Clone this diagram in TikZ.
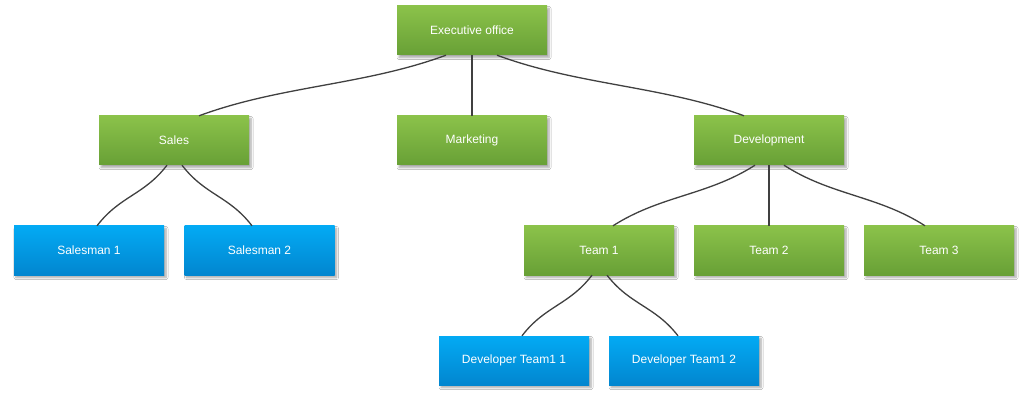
\documentclass[tikz,border=0pt]{standalone}
\usepackage{fontspec}
\setmainfont{Liberation Sans}
\usetikzlibrary{calc,shadows.blur}
\definecolor{gtop}{RGB}{139,194,74}
\definecolor{gbot}{RGB}{104,160,54}
\definecolor{btop}{RGB}{3,170,244}
\definecolor{bbot}{RGB}{2,134,207}
\definecolor{linec}{RGB}{64,64,64}
\tikzset{
  orgbox/.style={rectangle, minimum width=150pt, minimum height=49pt, inner sep=0pt,
    text=white, font=\fontsize{12pt}{14pt}\selectfont,
    blur shadow={shadow xshift=2pt, shadow yshift=-2.5pt, shadow blur steps=6, shadow opacity=35, shadow blur radius=2pt}},
  greenbox/.style={orgbox, top color=gtop, bottom color=gbot},
  bluebox/.style={orgbox, top color=btop, bottom color=bbot},
  orgline/.style={draw=linec, line width=1.3pt}
}
\newcommand\orgedge[4]{%
  \path ($(#1.south)+(#2,0)$) coordinate (eS) ($(#3.north)+(#4,0)$) coordinate (eE);
  \path ($(eS)!.5!(eE)$) coordinate (eM) ($(eS)!1/3!(eE)$) coordinate (eA) ($(eS)!2/3!(eE)$) coordinate (eB);
  \draw[orgline] (eS) .. controls (eA |- eM) and (eB |- eM) .. (eE);
}
\begin{document}
\begin{tikzpicture}[x=1pt,y=-1pt]
\useasboundingbox[fill=white] (0,0) rectangle (1029,401);
\node[greenbox] (exec) at (472,30.5) {Executive office};
\node[greenbox] (sales) at (174,140.5) {Sales};
\node[greenbox] (mkt) at (472,140.5) {Marketing};
\node[greenbox] (dev) at (769,140.5) {Development};
\node[bluebox] (sm1) at (89,250.5) {Salesman 1};
\node[bluebox] (sm2) at (259.5,250.5) {Salesman 2};
\node[greenbox] (t1) at (599,250.5) {Team 1};
\node[greenbox] (t2) at (769,250.5) {Team 2};
\node[greenbox] (t3) at (939,250.5) {Team 3};
\node[bluebox] (d1) at (514,360.5) {Developer Team1 1};
\node[bluebox] (d2) at (684,360.5) {Developer Team1 2};
\orgedge{exec}{-26pt}{sales}{25pt}
\draw[orgline] (exec.south) -- (mkt.north);
\orgedge{exec}{25pt}{dev}{-25pt}
\orgedge{sales}{-7pt}{sm1}{8pt}
\orgedge{sales}{8pt}{sm2}{-7.5pt}
\orgedge{dev}{-14pt}{t1}{14pt}
\draw[orgline] (dev.south) -- (t2.north);
\orgedge{dev}{15pt}{t3}{-14pt}
\orgedge{t1}{-7pt}{d1}{8pt}
\orgedge{t1}{8pt}{d2}{-6pt}
\end{tikzpicture}
\end{document}
